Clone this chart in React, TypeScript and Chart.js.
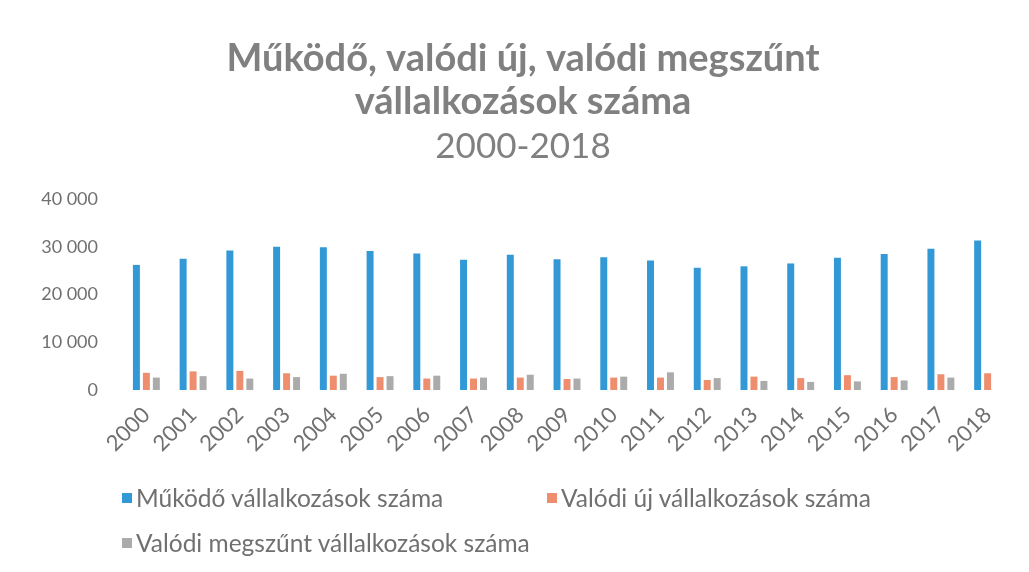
import React, { useEffect, useRef } from 'react';
import { Chart, registerables } from 'chart.js';

Chart.register(...registerables);

const years = ['2000', '2001', '2002', '2003', '2004', '2005', '2006', '2007', '2008', '2009', '2010', '2011', '2012', '2013', '2014', '2015', '2016', '2017', '2018'];
const mukodo = [26200, 27500, 29200, 30000, 29900, 29100, 28600, 27300, 28300, 27400, 27800, 27100, 25600, 25900, 26500, 27700, 28500, 29600, 31300];
const valodiUj = [3600, 3900, 4000, 3500, 3000, 2700, 2400, 2400, 2600, 2300, 2600, 2600, 2100, 2800, 2500, 3100, 2700, 3300, 3500];
const valodiMegszunt = [2600, 2900, 2400, 2700, 3400, 2900, 3000, 2600, 3200, 2400, 2800, 3700, 2500, 1900, 1700, 1800, 2000, 2600, null];
const yTickValues = [0, 10000, 20000, 30000, 40000];
const yTickLabels = ['0', '10 000', '20 000', '30 000', '40 000'];
const seriesNames = ['Működő vállalkozások száma', 'Valódi új vállalkozások száma', 'Valódi megszűnt vállalkozások száma'];
const titleLines = ['Működő, valódi új, valódi megszűnt', 'vállalkozások száma'];
const subtitleText = '2000-2018';

const colors = ['#3399d6', '#ee8e6e', '#ababab'];
const FONT = 'Lato, "Open Sans", sans-serif';

export default function App() {
  const ref = useRef<HTMLCanvasElement>(null);

  useEffect(() => {
    if (!ref.current) return;
    const chart = new Chart(ref.current, {
      type: 'bar',
      data: {
        labels: years,
        datasets: [
          { label: seriesNames[0], data: mukodo, backgroundColor: colors[0] },
          { label: seriesNames[1], data: valodiUj, backgroundColor: colors[1] },
          { label: seriesNames[2], data: valodiMegszunt as any, backgroundColor: colors[2] },
        ],
      },
      options: {
        responsive: false,
        animation: false,
        layout: { padding: { left: 27, right: 10, top: 0, bottom: 0 } },
        datasets: { bar: { barPercentage: 0.7, categoryPercentage: 0.64 } },
        plugins: {
          legend: { display: false },
          tooltip: { enabled: false },
          title: {
            display: true,
            text: titleLines,
            color: '#808080',
            font: { family: FONT, size: 38, weight: 'bold', lineHeight: 43 / 38 },
            padding: { top: 29, bottom: 0 },
          },
          subtitle: {
            display: true,
            text: subtitleText,
            color: '#808080',
            font: { family: FONT, size: 35, weight: 'normal', lineHeight: 40 / 35 },
            padding: { top: 4, bottom: 32 },
          },
        },
        scales: {
          x: {
            grid: { display: false },
            border: { display: false },
            ticks: {
              color: '#707070',
              font: { family: FONT, size: 22 },
              minRotation: 45,
              maxRotation: 45,
              padding: 4,
            },
            afterFit: (scale: any) => { scale.height = 174; },
          },
          y: {
            min: 0,
            max: 40000,
            grid: { display: false },
            border: { display: false },
            afterBuildTicks: (scale: any) => { scale.ticks = yTickValues.map((v) => ({ value: v })); },
            ticks: {
              color: '#707070',
              font: { family: FONT, size: 18 },
              padding: 17,
              callback: (v: any) => yTickLabels[yTickValues.indexOf(Number(v))],
            },
            afterFit: (scale: any) => { scale.width = 88; },
          },
        },
      },
    });
    return () => chart.destroy();
  }, []);

  const legendText: React.CSSProperties = {
    position: 'absolute',
    display: 'flex',
    alignItems: 'center',
    fontFamily: FONT,
    fontSize: 24.5,
    color: '#707070',
    whiteSpace: 'nowrap',
    lineHeight: '26px',
  };
  const box = (c: string): React.CSSProperties => ({ width: 10, height: 10, background: c, marginRight: 4, flex: 'none' });

  return (
    <div style={{ position: 'relative', width: 1013, height: 556 }}>
      <canvas ref={ref} width={1013} height={556} />
      <div style={{ ...legendText, left: 114, top: 477 }}>
        <span style={box(colors[0])} />
        <span>{seriesNames[0]}</span>
      </div>
      <div style={{ ...legendText, left: 539, top: 477 }}>
        <span style={box(colors[1])} />
        <span>{seriesNames[1]}</span>
      </div>
      <div style={{ ...legendText, left: 114, top: 522 }}>
        <span style={box(colors[2])} />
        <span>{seriesNames[2]}</span>
      </div>
    </div>
  );
}
